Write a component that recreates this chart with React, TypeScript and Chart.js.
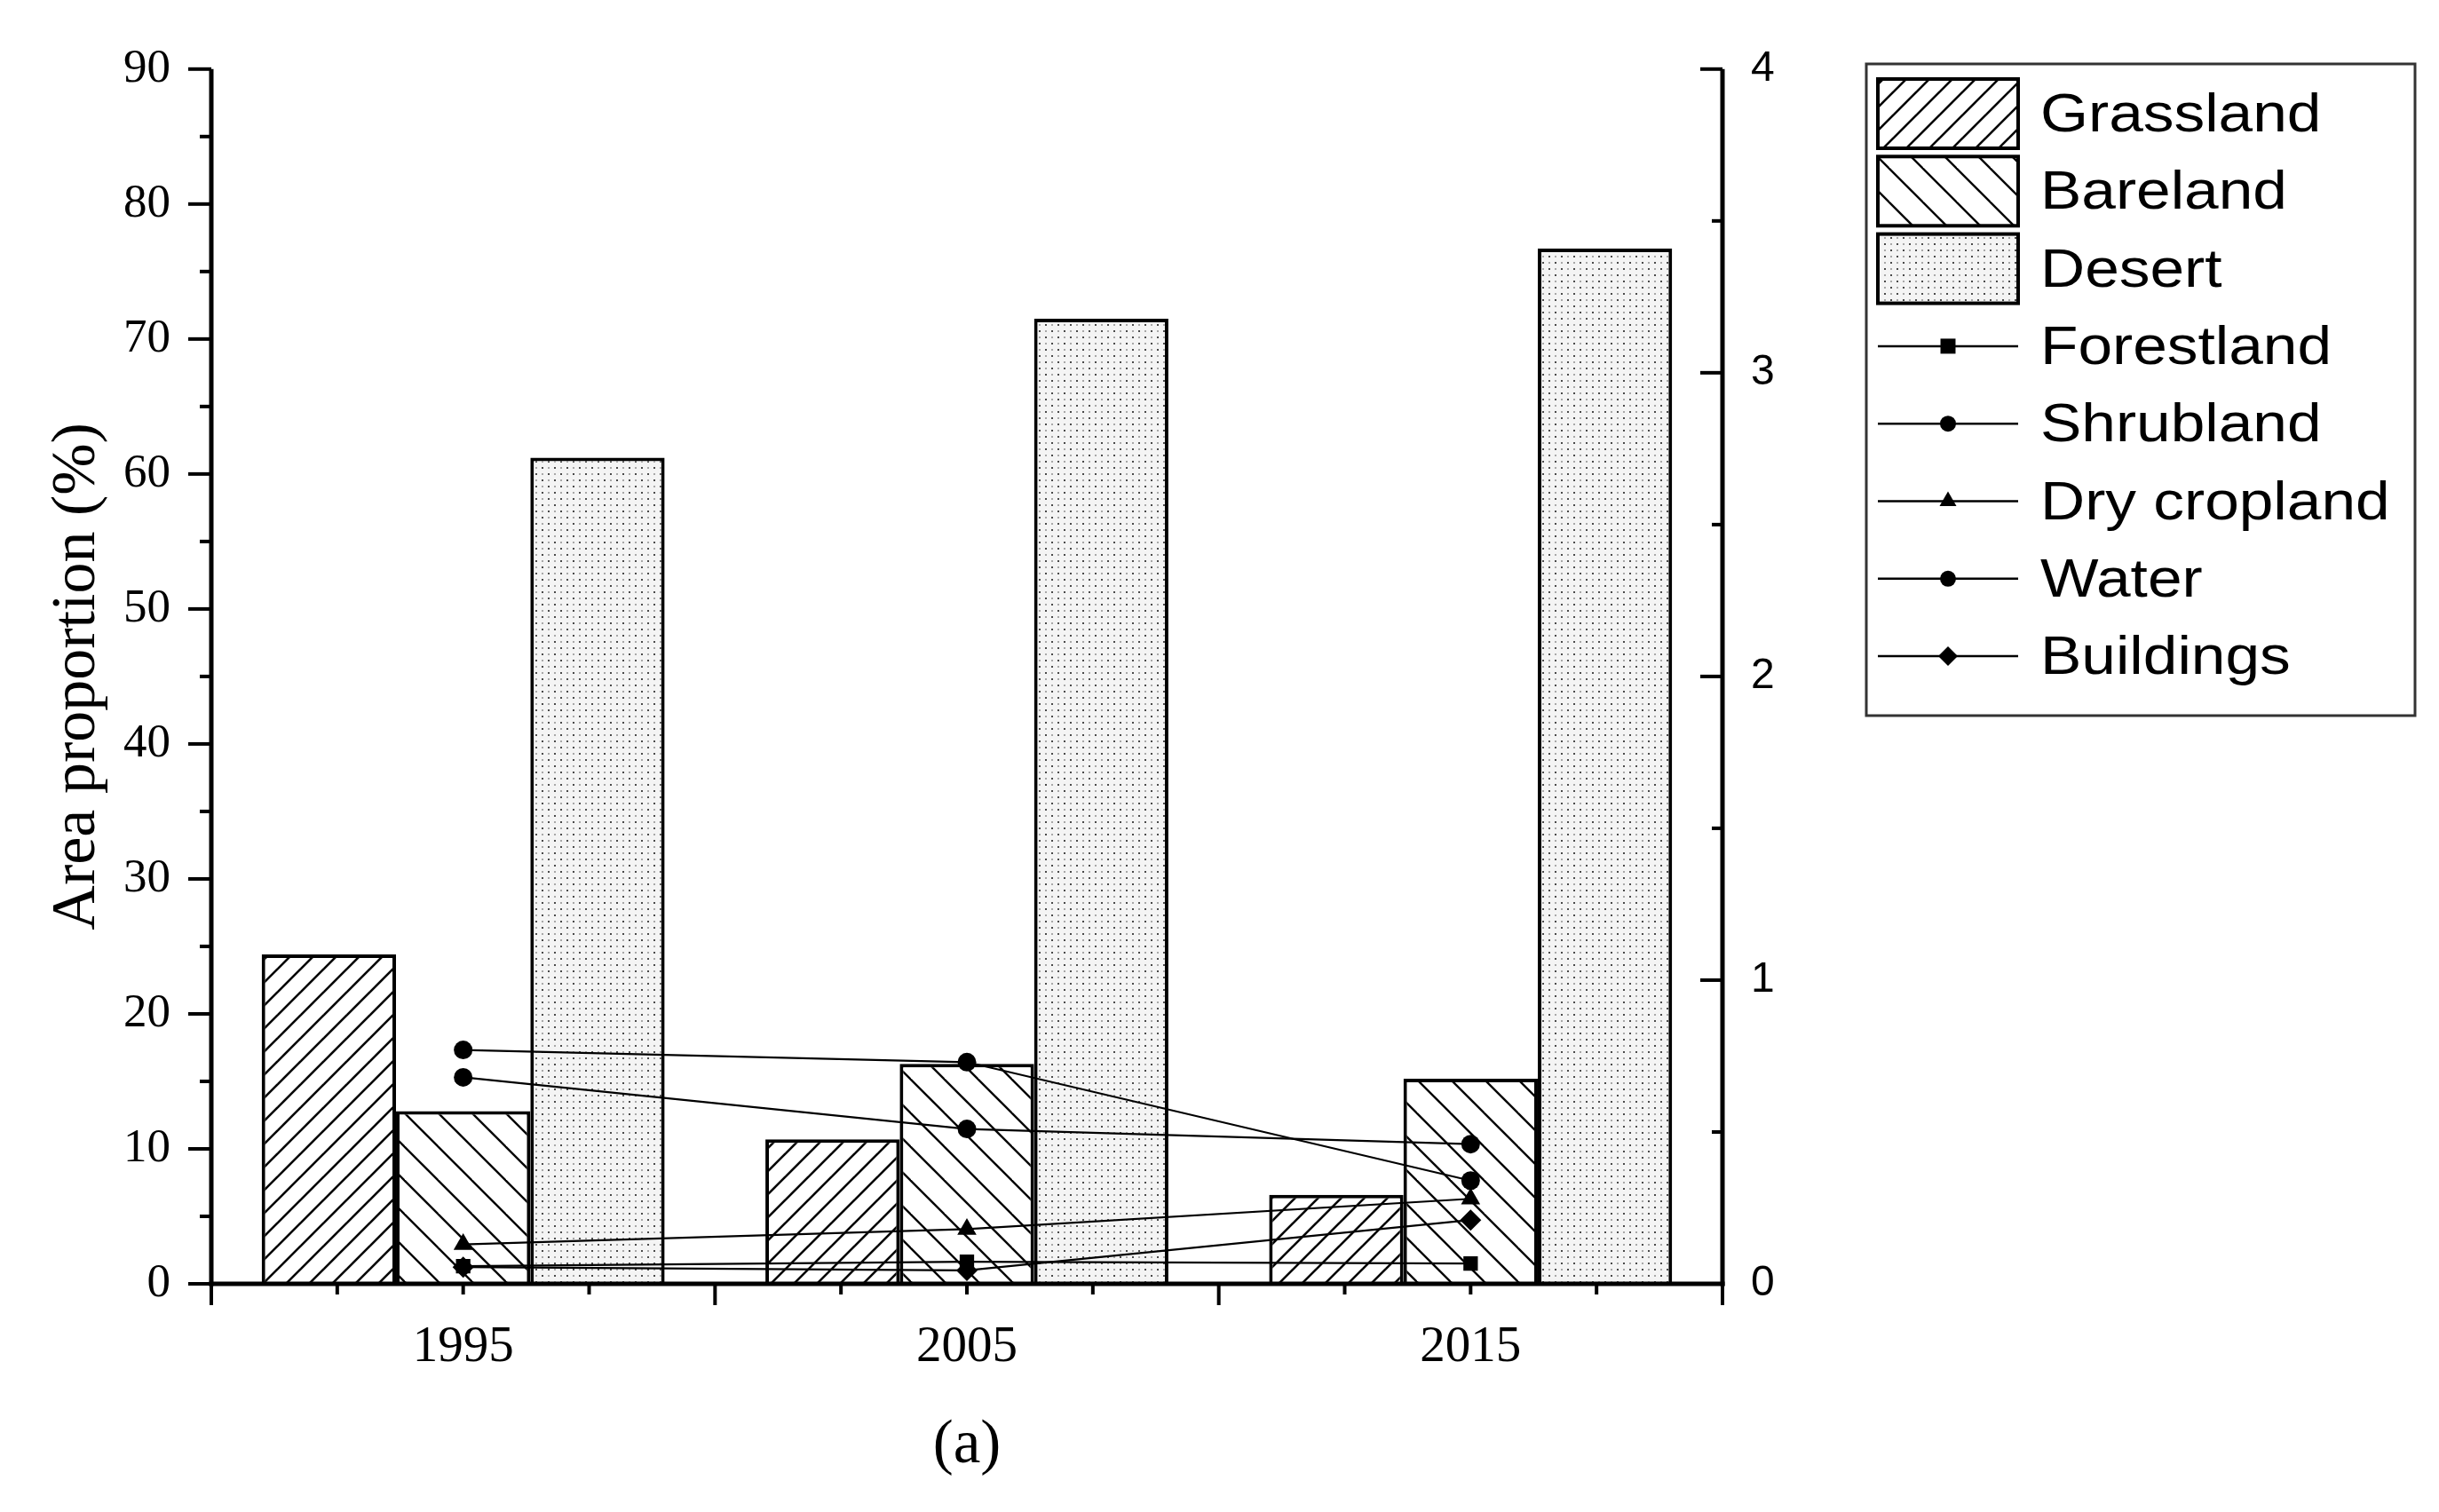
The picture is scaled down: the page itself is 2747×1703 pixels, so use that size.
import React, { useEffect, useRef } from 'react';
import { Chart, registerables } from 'chart.js';

Chart.register(...registerables);

// ---------- data ----------
const years = ['1995', '2005', '2015'];
const grassland = [24.4, 10.7, 6.6];
const bareland = [12.8, 16.3, 15.2];
const desert = [61.2, 71.5, 76.7];
const forestland = [0.058, 0.073, 0.067];
const shrubland = [0.77, 0.73, 0.34];
const dryCropland = [0.13, 0.18, 0.28];
const water = [0.68, 0.51, 0.46];
const buildings = [0.055, 0.044, 0.21];
const leftAxisRange = [0, 90, 10];
const rightAxisRange = [0, 4, 1];
const yAxisTitle = 'Area proportion (%)';
const xAxisTitle = '(a)';

const W = 2747;
const H = 1703;

function makeHatch(spacing: number, dir: 'up' | 'down', lw: number) {
  const c = document.createElement('canvas');
  c.width = spacing;
  c.height = spacing;
  const g = c.getContext('2d')!;
  g.fillStyle = '#ffffff';
  g.fillRect(0, 0, spacing, spacing);
  g.strokeStyle = '#000000';
  g.lineWidth = lw;
  for (const k of [-1, 0, 1]) {
    g.beginPath();
    if (dir === 'up') {
      g.moveTo(k * spacing - 2, spacing + 2);
      g.lineTo(k * spacing + spacing + 2, -2);
    } else {
      g.moveTo(k * spacing - 2, -2);
      g.lineTo(k * spacing + spacing + 2, spacing + 2);
    }
    g.stroke();
  }
  return g.createPattern(c, 'repeat')!;
}

function makeDots() {
  const c = document.createElement('canvas');
  c.width = 14;
  c.height = 14;
  const g = c.getContext('2d')!;
  g.fillStyle = '#f4f4f4';
  g.fillRect(0, 0, 14, 14);
  g.fillStyle = '#4a4a4a';
  g.fillRect(1, 1, 2, 2);
  g.fillRect(8, 8, 2, 2);
  g.fillStyle = '#a8a8a8';
  g.fillRect(8, 1, 2, 2);
  g.fillRect(1, 8, 2, 2);
  return g.createPattern(c, 'repeat')!;
}

function drawMarker(ctx: CanvasRenderingContext2D, style: string, x: number, y: number, r: number) {
  ctx.beginPath();
  if (style === 'rect') {
    const s = Math.SQRT1_2 * r;
    ctx.rect(x - s, y - s, 2 * s, 2 * s);
  } else if (style === 'circle') {
    ctx.arc(x, y, r, 0, Math.PI * 2);
  } else if (style === 'triangle') {
    for (let i = 0; i < 3; i++) {
      const a = (i * 2 * Math.PI) / 3;
      const px = x + Math.sin(a) * r;
      const py = y - Math.cos(a) * r;
      if (i === 0) ctx.moveTo(px, py);
      else ctx.lineTo(px, py);
    }
    ctx.closePath();
  } else if (style === 'rectRot') {
    ctx.moveTo(x - r, y);
    ctx.lineTo(x, y - r);
    ctx.lineTo(x + r, y);
    ctx.lineTo(x, y + r);
    ctx.closePath();
  }
  ctx.fill();
}

const axesPlugin = {
  id: 'originAxes',
  afterDatasetsDraw(chart: any) {
    const { ctx, chartArea, scales } = chart;
    const { left, right, top, bottom } = chartArea;
    const xs = scales.x;
    const yl = scales.y;
    const yr = scales.y1;
    const seg = (x1: number, y1: number, x2: number, y2: number) => {
      ctx.beginPath();
      ctx.moveTo(x1, y1);
      ctx.lineTo(x2, y2);
      ctx.stroke();
    };
    ctx.save();
    ctx.strokeStyle = '#000';
    ctx.lineCap = 'butt';
    ctx.lineWidth = 5;
    seg(left, top, left, bottom + 2.5);
    seg(right, top, right, bottom + 2.5);
    seg(left - 2.5, bottom, right + 2.5, bottom);
    ctx.lineWidth = 4;
    // left axis ticks (outward)
    const lt = yl.ticks.map((t: any) => t.value);
    lt.forEach((v: number, i: number) => {
      const py = yl.getPixelForValue(v);
      seg(left - 26, py, left, py);
      if (i < lt.length - 1) {
        const pm = yl.getPixelForValue((v + lt[i + 1]) / 2);
        seg(left - 13, pm, left, pm);
      }
    });
    // right axis ticks (inward)
    const rt = yr.ticks.map((t: any) => t.value);
    rt.forEach((v: number, i: number) => {
      const py = yr.getPixelForValue(v);
      seg(right - 25, py, right, py);
      if (i < rt.length - 1) {
        const pm = yr.getPixelForValue((v + rt[i + 1]) / 2);
        seg(right - 12, pm, right, pm);
      }
    });
    // x axis ticks: majors at category boundaries, minors at quarters
    const n = chart.data.labels.length;
    for (let i = 0; i <= n; i++) {
      const px = xs.getPixelForValue(i - 0.5);
      seg(px, bottom, px, bottom + 24);
      if (i < n) {
        for (const q of [-0.25, 0, 0.25]) {
          const pq = xs.getPixelForValue(i + q);
          seg(pq, bottom, pq, bottom + 12);
        }
      }
    }
    ctx.restore();
  },
};

const legendPlugin = {
  id: 'boxLegend',
  afterDraw(chart: any) {
    const ctx = chart.ctx as CanvasRenderingContext2D;
    const L = 2102, T = 72, R = 2720, B = 806;
    ctx.save();
    ctx.strokeStyle = '#333';
    ctx.lineWidth = 3;
    ctx.strokeRect(L, T, R - L, B - T);
    const sx = 2115, ex = 2273;
    chart.data.datasets.forEach((ds: any, i: number) => {
      const cy = 128 + i * 87.3;
      if (ds.type !== 'line') {
        ctx.fillStyle = ds.backgroundColor;
        ctx.fillRect(sx, cy - 39, ex - sx, 78);
        ctx.strokeStyle = '#000';
        ctx.lineWidth = 4;
        ctx.strokeRect(sx, cy - 39, ex - sx, 78);
      } else {
        ctx.strokeStyle = '#000';
        ctx.lineWidth = 2.5;
        ctx.beginPath();
        ctx.moveTo(sx, cy);
        ctx.lineTo(ex, cy);
        ctx.stroke();
        ctx.fillStyle = '#000';
        drawMarker(ctx, ds.pointStyle, (sx + ex) / 2, cy, ds.pointStyle === 'circle' ? 9 : ds.pointStyle === 'rect' ? 12 : 11);
      }
      ctx.save();
      ctx.translate(2298, cy + 3);
      ctx.scale(1.12, 1);
      ctx.fillStyle = '#000';
      ctx.font = '62px "Liberation Sans"';
      ctx.textBaseline = 'middle';
      ctx.textAlign = 'left';
      ctx.fillText(ds.label, 0, 0);
      ctx.restore();
    });
    ctx.restore();
  },
};

export default function App() {
  const ref = useRef<HTMLCanvasElement | null>(null);

  useEffect(() => {
    document.body.style.margin = '0';
    document.body.style.overflow = 'hidden';
    const canvas = ref.current!;
    const grassPat = makeHatch(26, 'up', 2.6);
    const barePat = makeHatch(38, 'down', 2.4);
    const desertPat = makeDots();

    const barCommon = {
      type: 'bar' as const,
      borderColor: '#000',
      borderWidth: 4,
      yAxisID: 'y',
      order: 2,
      categoryPercentage: 0.8,
      barPercentage: 1.0,
    };
    const lineCommon = {
      type: 'line' as const,
      borderColor: '#000',
      borderWidth: 2.2,
      backgroundColor: '#000',
      pointBackgroundColor: '#000',
      pointBorderWidth: 0,
      yAxisID: 'y1',
      order: 1,
      tension: 0,
      fill: false,
    };

    const chart = new Chart(canvas, {
      type: 'bar',
      data: {
        labels: years,
        datasets: [
          { ...barCommon, label: 'Grassland', data: grassland, backgroundColor: grassPat },
          { ...barCommon, label: 'Bareland', data: bareland, backgroundColor: barePat },
          { ...barCommon, label: 'Desert', data: desert, backgroundColor: desertPat },
          { ...lineCommon, label: 'Forestland', data: forestland, pointStyle: 'rect', pointRadius: 11.5 },
          { ...lineCommon, label: 'Shrubland', data: shrubland, pointStyle: 'circle', pointRadius: 10.5 },
          { ...lineCommon, label: 'Dry cropland', data: dryCropland, pointStyle: 'triangle', pointRadius: 12.5 },
          { ...lineCommon, label: 'Water', data: water, pointStyle: 'circle', pointRadius: 10.5 },
          { ...lineCommon, label: 'Buildings', data: buildings, pointStyle: 'rectRot', pointRadius: 12 },
        ] as any,
      },
      options: {
        responsive: false,
        animation: false,
        devicePixelRatio: 1,
        layout: { padding: { left: 0, top: 77, right: 707, bottom: 0 } },
        plugins: {
          legend: { display: false },
          tooltip: { enabled: false },
        },
        scales: {
          x: {
            type: 'category',
            offset: true,
            grid: { display: false, drawTicks: false },
            border: { display: false },
            ticks: {
              font: { family: 'Liberation Serif', size: 57 },
              color: '#000',
              padding: 38,
              maxRotation: 0,
              autoSkip: false,
            },
            title: {
              display: true,
              text: xAxisTitle,
              font: { family: 'Liberation Serif', size: 69 },
              color: '#000',
              padding: { top: 0, bottom: 33 },
            },
            afterFit: (s: any) => {
              s.height = 257;
            },
          },
          y: {
            position: 'left',
            min: leftAxisRange[0],
            max: leftAxisRange[1],
            ticks: {
              stepSize: leftAxisRange[2],
              font: { family: 'Liberation Serif', size: 53 },
              color: '#000',
              padding: 46,
            },
            grid: { display: false, drawTicks: false },
            border: { display: false },
            title: {
              display: true,
              text: yAxisTitle,
              font: { family: 'Liberation Serif', size: 70 },
              color: '#000',
              padding: { top: 46, bottom: 0 },
            },
            afterFit: (s: any) => {
              s.width = 238;
            },
          },
          y1: {
            position: 'right',
            min: rightAxisRange[0],
            max: rightAxisRange[1],
            ticks: {
              stepSize: rightAxisRange[2],
              font: { family: 'Liberation Sans', size: 48 },
              color: '#000',
              padding: 32,
            },
            grid: { display: false, drawTicks: false },
            border: { display: false },
            afterFit: (s: any) => {
              s.width = 100;
            },
          },
        },
      } as any,
      plugins: [axesPlugin, legendPlugin],
    });
    return () => chart.destroy();
  }, []);

  return (
    <div style={{ width: W, height: H, background: '#fff' }}>
      <canvas ref={ref} width={W} height={H} style={{ display: 'block', width: W, height: H }} />
    </div>
  );
}
